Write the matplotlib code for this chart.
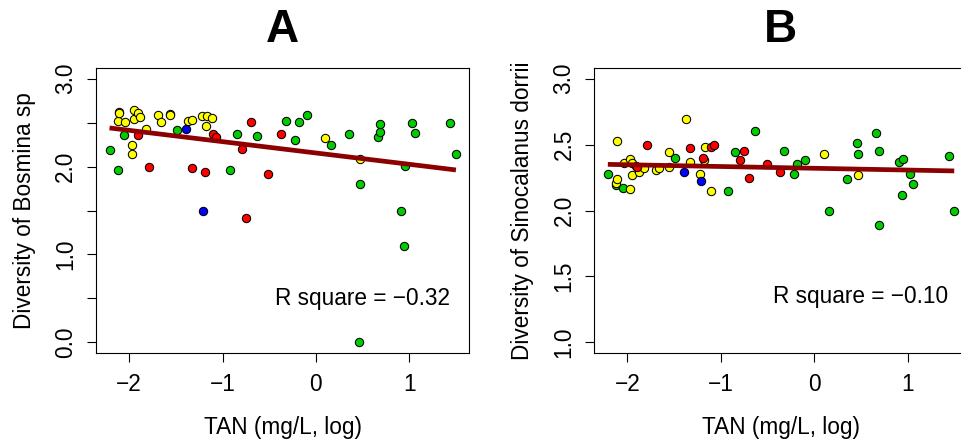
import matplotlib
matplotlib.use("Agg")
import matplotlib.pyplot as plt
import numpy as np

plt.rcParams['font.family'] = ['Liberation Sans', 'DejaVu Sans']

# TAN (mg/L, log) per sample group, shared by both panels
green_x = [-2.21, -2.12, -2.05, -1.49, -0.92, -0.85, -0.63, -0.32, -0.22, -0.18, -0.10, 0.16, 0.35,
           0.46, 0.47, 0.66, 0.69, 0.69, 0.91, 0.94, 0.95, 1.03, 1.06, 1.44, 1.50]
yellow_x = [-2.12, -2.11, -2.11, -2.04, -1.97, -1.97, -1.95, -1.95, -1.91, -1.88, -1.82, -1.69,
            -1.66, -1.56, -1.56, -1.37, -1.33, -1.22, -1.18, -1.17, -1.11, 0.10, 0.47]
red_x = [-1.90, -1.79, -1.33, -1.19, -1.10, -1.07, -0.79, -0.75, -0.70, -0.51, -0.37]
blue_x = [-1.39, -1.21]

# diversity of Bosmina sp (panel A)
green_a = [2.19, 1.96, 2.36, 2.41, 1.96, 2.37, 2.35, 2.52, 2.30, 2.51, 2.58, 2.24, 2.37,
           0.00, 1.80, 2.34, 2.39, 2.48, 1.49, 1.10, 2.01, 2.50, 2.38, 2.49, 2.14]
yellow_a = [2.52, 2.62, 2.61, 2.51, 2.24, 2.14, 2.64, 2.54, 2.61, 2.56, 2.43, 2.59,
            2.51, 2.60, 2.59, 2.52, 2.53, 2.57, 2.46, 2.57, 2.55, 2.32, 2.08]
red_a = [2.36, 2.00, 1.98, 1.94, 2.37, 2.34, 2.20, 1.42, 2.51, 1.92, 2.37]
blue_a = [2.43, 1.50]

# diversity of Sinocalanus dorrii (panel B)
green_b = [2.28, 2.19, 2.17, 2.40, 2.15, 2.44, 2.60, 2.45, 2.28, 2.35, 2.38, 2.00, 2.24,
           2.51, 2.43, 2.59, 2.45, 1.89, 2.37, 2.12, 2.39, 2.28, 2.20, 2.41, 2.00]
yellow_b = [2.21, 2.53, 2.24, 2.36, 2.39, 2.16, 2.27, 2.36, 2.34, 2.29, 2.32, 2.31,
            2.32, 2.44, 2.33, 2.69, 2.37, 2.28, 2.38, 2.48, 2.15, 2.43, 2.27]
red_b = [2.33, 2.50, 2.47, 2.40, 2.48, 2.50, 2.38, 2.45, 2.25, 2.35, 2.29]
blue_b = [2.29, 2.22]

# fitted lines (intercept, slope) and the reported values
fit_a = (2.154, -0.1287)
fit_b = (2.320, -0.0134)
r_text_a = "R square = \u22120.32"
r_text_b = "R square = \u22120.10"

groups_x = [green_x, yellow_x, red_x, blue_x]
colors = ['#00CD00', '#FFFF00', '#FF0000', '#0000FF']

FS = 16.3
fig = plt.figure(figsize=(9.61, 4.44), dpi=100)
ax_a = fig.add_axes([96 / 961, 91 / 444, 373 / 961, 285 / 444])
ax_b = fig.add_axes([594.3 / 961, 91 / 444, 373 / 961, 285 / 444])


def draw_panel(ax, ys, fit, label, title, rtext, ylim, yticks, ylabels, rpos):
    for gx, gy, c in zip(groups_x, ys, colors):
        ax.scatter(gx, gy, s=36, c=c, edgecolors='black', linewidths=0.75, zorder=3)
    all_x = np.concatenate([np.array(g) for g in groups_x])
    xs = np.array([all_x.min(), all_x.max()])
    ax.plot(xs, fit[0] + fit[1] * xs, color='#8B0000', lw=3.4, solid_capstyle='butt', zorder=4)
    ax.set_xlim(-2.355, 1.64)
    ax.set_ylim(*ylim)
    ax.set_xticks([-2, -1, 0, 1])
    ax.set_yticks(yticks)
    ax.set_yticklabels(ylabels, rotation=90, va='center')
    ax.tick_params(direction='out', length=6.5, width=0.8, labelsize=FS, pad=8)
    ax.tick_params(axis='y', pad=7)
    for sp in ax.spines.values():
        sp.set_linewidth(0.8)
    ax.set_xlabel("TAN (mg/L, log)", fontsize=FS, labelpad=14)
    ax.set_ylabel(label, fontsize=FS, labelpad=13)
    ax.set_title(title, fontsize=33, fontweight='bold', pad=19)
    ax.text(rpos[0], rpos[1], rtext, fontsize=FS, ha='center', va='center')


draw_panel(ax_a, [green_a, yellow_a, red_a, blue_a], fit_a, "Diversity of Bosmina sp", "A",
           r_text_a, (-0.12, 3.12), [0, 0.5, 1, 1.5, 2, 2.5, 3],
           ["0.0", "", "1.0", "", "2.0", "", "3.0"], (0.5, 0.5))
draw_panel(ax_b, [green_b, yellow_b, red_b, blue_b], fit_b, "Diversity of Sinocalanus dorrii", "B",
           r_text_b, (0.92, 3.08), [1, 1.5, 2, 2.5, 3],
           ["1.0", "1.5", "2.0", "2.5", "3.0"], (0.5, 1.35))

fig.savefig("out.png", dpi=100)
